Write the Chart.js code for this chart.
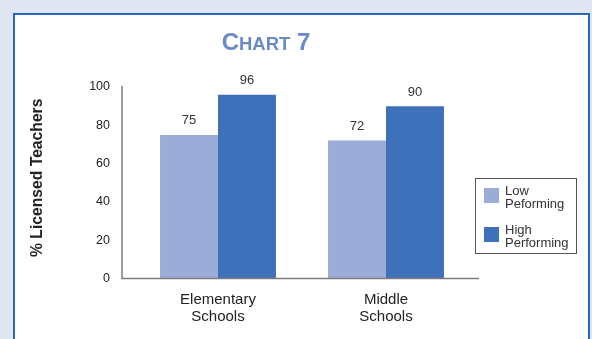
<!DOCTYPE html>
<html>
<head>
<meta charset="utf-8">
<script src="https://cdn.jsdelivr.net/npm/chart.js@4"></script>
<style>
  html, body { margin: 0; padding: 0; }
  body { width: 592px; height: 339px; background: #dfe5f1; position: relative; overflow: hidden; }
  #frame { position: absolute; left: 13px; top: 13px; width: 573px; height: 400px;
           border: 2px solid #2767c1; background: #ffffff; }
  #chart { position: absolute; left: 0; top: 0; }
</style>
</head>
<body>
<div id="frame"></div>
<canvas id="chart" width="592" height="339"></canvas>
<script>
// Chart data
const categories = [['Elementary', 'Schools'], ['Middle', 'Schools']];
const seriesLabels = [['Low', 'Peforming'], ['High', 'Performing']];
const lowPerforming = [75, 72];
const highPerforming = [96, 90];
const yMin = 0, yMax = 100, yStep = 20;
const titleParts = ['C', 'HART', ' 7'];
const yTitle = '% Licensed Teachers';

const colors = ['#9aacd7', '#3e71ba'];
const FONT = '"Liberation Sans", Arial, Helvetica, sans-serif';

// Axis lines, title, value labels and legend
const decorations = {
  id: 'decorations',
  afterDatasetsDraw(chart) {
    const ctx = chart.ctx;
    const area = chart.chartArea;
    const y = chart.scales.y;

    ctx.save();
    // axis lines
    ctx.strokeStyle = '#7d7d7d';
    ctx.lineWidth = 1.5;
    const axisX = area.left - 12;
    ctx.beginPath();
    ctx.moveTo(axisX, y.getPixelForValue(yMax) - 1);
    ctx.lineTo(axisX, area.bottom);
    ctx.lineTo(area.right + 9, area.bottom);
    ctx.stroke();

    // value labels above bars
    ctx.fillStyle = '#333333';
    ctx.font = '13px ' + FONT;
    ctx.textAlign = 'center';
    ctx.textBaseline = 'middle';
    chart.data.datasets.forEach((ds, di) => {
      chart.getDatasetMeta(di).data.forEach((bar, i) => {
        ctx.fillText(String(ds.data[i]), bar.x, bar.y - 14);
      });
    });

    // title with small capitals
    ctx.fillStyle = '#6a8ac7';
    ctx.textAlign = 'left';
    ctx.textBaseline = 'alphabetic';
    const fonts = ['bold 24px ' + FONT, 'bold 18.5px ' + FONT, 'bold 24px ' + FONT];
    let total = 0;
    titleParts.forEach((t, i) => { ctx.font = fonts[i]; total += ctx.measureText(t).width; });
    let tx = 266 - total / 2;
    titleParts.forEach((t, i) => {
      ctx.font = fonts[i];
      ctx.fillText(t, tx, 50);
      tx += ctx.measureText(t).width;
    });

    // rotated y-axis title
    ctx.save();
    ctx.translate(38, (y.getPixelForValue(yMax) + area.bottom) / 2 - 5);
    ctx.rotate(-Math.PI / 2);
    ctx.fillStyle = '#222222';
    ctx.font = 'bold 15.7px ' + FONT;
    ctx.textAlign = 'center';
    ctx.textBaseline = 'middle';
    ctx.fillText(yTitle, 0, 0);
    ctx.restore();

    // legend box
    const lx = 475, ly = 178, lw = 101, lh = 75;
    ctx.strokeStyle = '#555555';
    ctx.lineWidth = 1;
    ctx.strokeRect(lx + 0.5, ly + 0.5, lw, lh);
    ctx.font = '13px ' + FONT;
    ctx.textBaseline = 'middle';
    ctx.textAlign = 'left';
    seriesLabels.forEach((lines, i) => {
      const sy = ly + 10 + i * 39;
      ctx.fillStyle = colors[i];
      ctx.fillRect(lx + 9, sy, 15, 15);
      ctx.fillStyle = '#333333';
      lines.forEach((ln, k) => ctx.fillText(ln, lx + 30, sy + 3 + k * 13));
    });
    ctx.restore();
  }
};

new Chart(document.getElementById('chart'), {
  type: 'bar',
  data: {
    labels: categories,
    datasets: [
      { label: seriesLabels[0].join(' '), data: lowPerforming, backgroundColor: colors[0] },
      { label: seriesLabels[1].join(' '), data: highPerforming, backgroundColor: colors[1] }
    ]
  },
  options: {
    responsive: false,
    animation: false,
    devicePixelRatio: 1,
    layout: { padding: { left: 0, right: 122, top: 87, bottom: 0 } },
    datasets: { bar: { categoryPercentage: 0.69, barPercentage: 1.0 } },
    plugins: {
      legend: { display: false },
      title: { display: false },
      tooltip: { enabled: false }
    },
    scales: {
      x: {
        grid: { display: false },
        border: { display: false },
        ticks: {
          color: '#222222',
          font: { family: FONT, size: 15, lineHeight: 1.13 },
          padding: 5,
          maxRotation: 0
        },
        afterFit(scale) { scale.height = 60.5; }
      },
      y: {
        min: yMin,
        max: yMax,
        grid: { display: false },
        border: { display: false },
        ticks: {
          stepSize: yStep,
          color: '#222222',
          font: { family: FONT, size: 12.5 },
          padding: 16
        },
        afterFit(scale) { scale.width = 134; }
      }
    }
  },
  plugins: [decorations]
});
</script>
</body>
</html>
